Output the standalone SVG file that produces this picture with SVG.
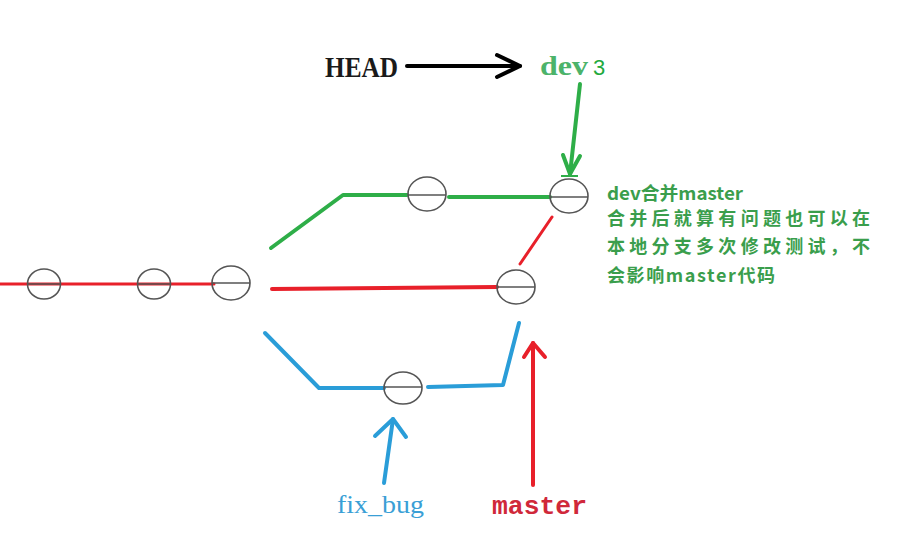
<svg xmlns="http://www.w3.org/2000/svg" width="911" height="551" viewBox="0 0 911 551">
<style>
.c{fill:none;stroke:#555;stroke-width:1.6}
.d{stroke:#555;stroke-width:1.4}
.r{fill:none;stroke:#e8202a;stroke-width:3;stroke-linecap:round;stroke-linejoin:round}
.g{fill:none;stroke:#2eae48;stroke-width:4;stroke-linecap:round;stroke-linejoin:round}
.b{fill:none;stroke:#2a9dd8;stroke-width:4;stroke-linecap:round;stroke-linejoin:round}
.k{fill:none;stroke:#000;stroke-width:4;stroke-linecap:round;stroke-linejoin:round}
.note{font-family:"Noto Sans CJK SC","Noto Sans CJK JP",sans-serif;font-size:18px;fill:#3a9e4c;font-weight:bold}
</style>
<rect width="911" height="551" fill="#fff"/>
<g id="connectors">
<line class="r" x1="0" y1="284" x2="214" y2="284" stroke="#ff1a1a"/>
<line class="r" x1="272" y1="289" x2="497" y2="287" stroke="#d9243a" style="stroke-width:4"/>
<polyline class="g" points="271,248 343,195 407,195"/>
<line class="g" x1="449" y1="197" x2="550" y2="197"/>
<line class="r" x1="552" y1="217" x2="520" y2="264" stroke="#d9243a"/>
<polyline class="b" points="265,333 319,388 384,388"/>
<polyline class="b" points="428,387 503,385 519,323"/>
<g id="arrow-head">
<line class="k" x1="407" y1="66" x2="520" y2="66"/>
<polyline class="k" points="497,55 520,66 497,77"/>
</g>
<g id="arrow-dev">
<line class="g" x1="580" y1="84" x2="570" y2="174"/>
<polyline class="g" points="563,155 570,174 580,156"/>
<line x1="561" y1="176" x2="578" y2="176" stroke="#2eae48" stroke-width="2"/>
</g>
<g id="arrow-fixbug">
<line class="b" x1="384" y1="483" x2="393" y2="419"/>
<polyline class="b" points="375,436 393,419 406,437"/>
</g>
<g id="arrow-master">
<line class="r" x1="533" y1="485" x2="533" y2="343" stroke="#d9243a" style="stroke-width:4"/>
<polyline class="r" points="524,357 533,343 545,357" stroke="#d9243a" style="stroke-width:4"/>
</g>
</g>
<g id="commit1"><ellipse class="c" cx="44" cy="284" rx="16.5" ry="15" stroke="#333"/><line class="d" x1="28" y1="284" x2="61" y2="284"/></g>
<g id="commit2"><ellipse class="c" cx="154" cy="284" rx="16.5" ry="15" stroke="#333"/><line class="d" x1="138" y1="284" x2="171" y2="284"/></g>
<g id="commit3"><ellipse class="c" cx="231" cy="283" rx="19" ry="17" stroke="#777"/><line class="d" x1="212" y1="283" x2="250" y2="283" stroke="#999"/></g>
<g id="commit-dev1"><ellipse class="c" cx="427" cy="194" rx="19" ry="17" stroke="#666"/><line class="d" x1="408" y1="195" x2="446" y2="195"/></g>
<g id="commit-dev"><ellipse class="c" cx="569" cy="196" rx="19" ry="17" stroke="#666"/><line class="d" x1="550" y1="197" x2="588" y2="197"/></g>
<g id="commit-master"><ellipse class="c" cx="516" cy="287" rx="19" ry="17" stroke="#666"/><line class="d" x1="497" y1="287" x2="535" y2="287" stroke="#333"/></g>
<g id="commit-fixbug"><ellipse class="c" cx="403" cy="388" rx="19" ry="16" stroke="#444"/><line class="d" x1="384" y1="387" x2="422" y2="387"/></g>
<g id="label-head"><text x="325" y="77" font-family="Liberation Serif,serif" font-weight="bold" font-size="30" textLength="73" lengthAdjust="spacingAndGlyphs" fill="#1a1a1a">HEAD</text></g>
<g id="label-dev"><text x="540" y="75" font-family="Liberation Serif,serif" font-weight="bold" font-size="28" textLength="48" lengthAdjust="spacingAndGlyphs" fill="#4cb36a">dev</text><text x="593" y="75" font-family="Liberation Sans,sans-serif" font-size="22" fill="#1faa3e">3</text></g>
<g id="label-fixbug"><text x="337" y="513" font-family="Liberation Serif,serif" font-size="26" textLength="87" lengthAdjust="spacingAndGlyphs" fill="#3a9fd6">fix_bug</text></g>
<g id="label-master"><text x="492" y="514" font-family="Liberation Mono,monospace" font-weight="bold" font-size="26" textLength="95" lengthAdjust="spacingAndGlyphs" fill="#d0283a">master</text></g>
<g id="note">
<text class="note" x="607" y="200" textLength="136" lengthAdjust="spacingAndGlyphs">dev合并master</text>
<text class="note" x="607" y="225" textLength="263" lengthAdjust="spacing">合并后就算有问题也可以在</text>
<text class="note" x="607" y="253" textLength="263" lengthAdjust="spacing">本地分支多次修改测试，不</text>
<text class="note" x="607" y="282" textLength="168" lengthAdjust="spacing">会影响master代码</text>
</g>
</svg>
